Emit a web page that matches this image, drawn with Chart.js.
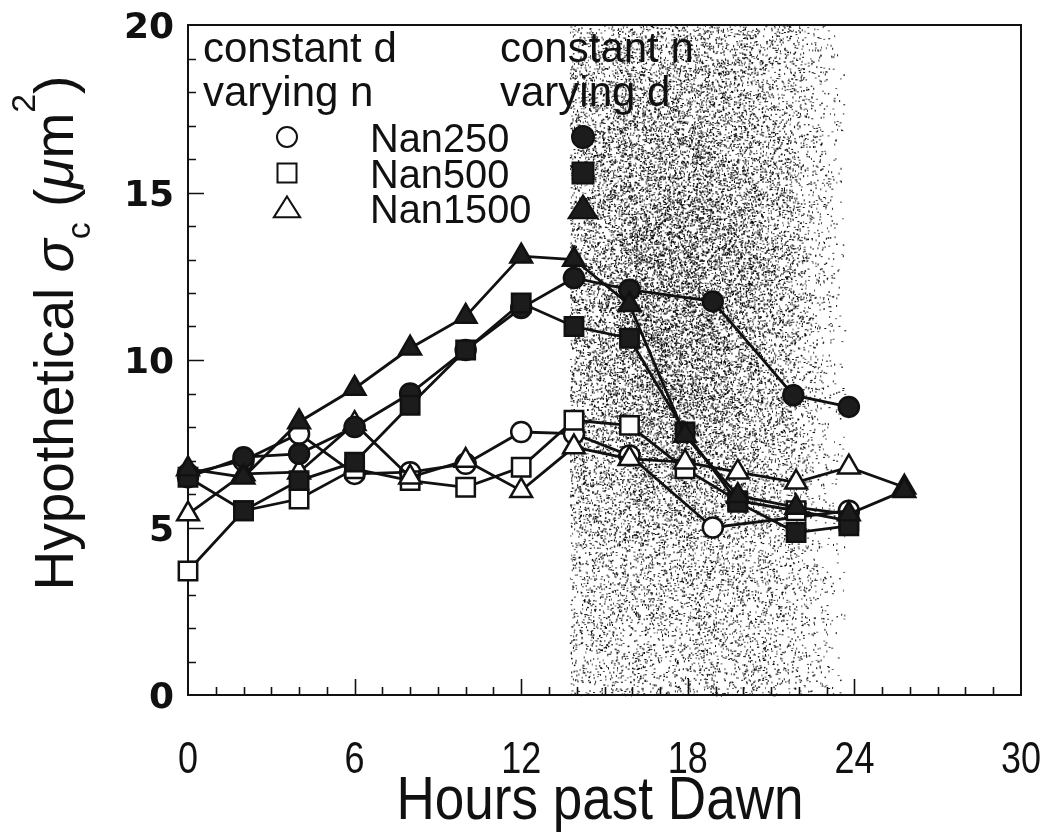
<!DOCTYPE html>
<html>
<head>
<meta charset="utf-8">
<script src="https://cdn.jsdelivr.net/npm/chart.js@4/dist/chart.umd.min.js"></script>
<style>
html, body { margin: 0; padding: 0; background: #fff; }
canvas { display: block; }
</style>
</head>
<body>
<canvas id="chart1" width="1043" height="838"></canvas>
<script>
// hours past dawn for each series
var hoursOpenCircle = [0, 2, 4, 6, 8, 10, 12, 13.9, 15.9, 18.9, 23.8];
var hoursOpenSquare = [0, 2, 4, 6, 8, 10, 12, 13.9, 15.9, 17.9, 19.8, 21.9, 23.8];
var hoursOpenTriangle = [0, 2, 4, 6, 8, 10, 12, 13.9, 15.9, 17.9, 19.8, 21.9, 23.8, 25.8];
var hoursFilledCircle = [0, 2, 4, 6, 8, 10, 12, 13.9, 15.9, 18.9, 21.8, 23.8];
var hoursFilledSquare = [0, 2, 4, 6, 8, 10, 12, 13.9, 15.9, 17.9, 19.8, 21.9, 23.8];
var hoursFilledTriangle = [0, 2, 4, 6, 8, 10, 12, 13.9, 15.9, 17.9, 19.8, 21.9, 23.8, 25.8];

// constant d, varying n
var nan250D = [6.6, 7.0, 7.8, 6.6, 6.65, 6.9, 7.85, 7.8, 7.15, 5.0, 5.5];
var nan500D = [3.7, 5.5, 5.85, 6.75, 6.4, 6.2, 6.8, 8.2, 8.05, 6.75, 5.8, 5.5, 5.2];
var nan1500D = [5.4, 6.6, 6.65, 8.1, 6.5, 7.0, 6.1, 7.4, 7.05, 6.95, 6.65, 6.35, 6.8, 6.2];

// constant n, varying d
var nan250N = [6.5, 7.1, 7.2, 8.0, 9.0, 10.3, 11.55, 12.45, 12.1, 11.75, 8.95, 8.6];
var nan500N = [6.5, 5.5, 6.4, 6.95, 8.65, 10.3, 11.7, 11.0, 10.65, 7.85, 5.75, 4.85, 5.05];
var nan1500N = [6.75, 6.5, 8.15, 9.15, 10.35, 11.3, 13.1, 13.0, 11.65, 7.75, 5.95, 5.6, 5.4, 6.1];

var xTickLabels = [0, 6, 12, 18, 24, 30];
var yTickLabels = [0, 5, 10, 15, 20];
var seriesNames = ['Nan250', 'Nan500', 'Nan1500'];

// dark period
var nightStart = 13.75;
var nightEnd = 23.5;

var FONT = '"Liberation Sans", Arial, Helvetica, sans-serif';
var INK = '#111';

function pairs(xs, ys) {
    return xs.map(function (x, i) { return { x: x, y: ys[i] }; });
}

function series(label, xs, ys, style, filled, order) {
    var r = style === 'circle' ? 10 : (style === 'rect' ? 13 : 12.5);
    return {
        label: label,
        data: pairs(xs, ys),
        showLine: true,
        borderColor: INK,
        borderWidth: 2.8,
        pointStyle: style,
        pointRadius: r,
        pointBorderWidth: 2.5,
        pointBorderColor: INK,
        pointBackgroundColor: filled ? '#1c1c1c' : '#fff',
        clip: false,
        order: order
    };
}

function drawText(ctx, str, x, y, size, squeeze, align, family, weight) {
    ctx.save();
    ctx.font = (weight ? weight + ' ' : '') + size + 'px ' + (family || FONT);
    ctx.fillStyle = INK;
    ctx.textAlign = align || 'left';
    ctx.textBaseline = 'alphabetic';
    ctx.translate(x, y);
    ctx.scale(squeeze, 1);
    ctx.fillText(str, 0, 0);
    ctx.restore();
}

function drawMarker(ctx, style, filled, x, y, r) {
    ctx.save();
    ctx.lineWidth = 2;
    ctx.strokeStyle = INK;
    ctx.fillStyle = filled ? '#1c1c1c' : '#fff';
    ctx.beginPath();
    if (style === 'circle') {
        ctx.arc(x, y, r, 0, Math.PI * 2);
    } else if (style === 'rect') {
        ctx.rect(x - r, y - r, 2 * r, 2 * r);
    } else {
        ctx.moveTo(x, y - r * 1.05);
        ctx.lineTo(x + r * 1.2, y + r * 0.85);
        ctx.lineTo(x - r * 1.2, y + r * 0.85);
        ctx.closePath();
    }
    ctx.fill();
    ctx.stroke();
    ctx.restore();
}

// small deterministic generator for the stipple texture
function stippleRand(seed) {
    return function () {
        seed |= 0; seed = seed + 0x6D2B79F5 | 0;
        var t = Math.imul(seed ^ seed >>> 15, 1 | seed);
        t = t + Math.imul(t ^ t >>> 7, 61 | t) ^ t;
        return ((t ^ t >>> 14) >>> 0) / 4294967296;
    };
}

var nightShade = {
    id: 'nightShade',
    beforeDatasetsDraw: function (chart) {
        var ctx = chart.ctx, a = chart.chartArea, xs = chart.scales.x;
        var x0 = xs.getPixelForValue(nightStart), x1 = xs.getPixelForValue(nightEnd);
        var rand = stippleRand(20240611);
        ctx.save();
        ctx.fillStyle = '#000';
        var n = 75000;
        for (var i = 0; i < n; i++) {
            var px = x0 + rand() * (x1 - x0 + 4);
            var py = a.top + rand() * (a.bottom - a.top);
            var p = 0.15 + 0.5 * Math.exp(-Math.pow((px - 675) / 110, 2) - Math.pow((py - 290) / 240, 2));
            if (px > x1 - 50) p *= Math.max(0, 1 - (px - (x1 - 50)) / 60);
            if (rand() > p) continue;
            ctx.globalAlpha = 0.55 + rand() * 0.45;
            var k = rand();
            if (k < 0.4) ctx.fillRect(px, py, 2, 1);
            else if (k < 0.8) ctx.fillRect(px, py, 1, 2);
            else ctx.fillRect(px, py, 1.5, 1.5);
        }
        ctx.restore();
    }
};

var frameAndTicks = {
    id: 'frameAndTicks',
    beforeDatasetsDraw: function (chart) {
        var ctx = chart.ctx, a = chart.chartArea;
        var xs = chart.scales.x, ys = chart.scales.y;
        ctx.save();
        ctx.strokeStyle = INK;
        ctx.lineWidth = 2;
        ctx.strokeRect(a.left, a.top, a.right - a.left, a.bottom - a.top);
        ctx.lineWidth = 1.6;
        ctx.beginPath();
        for (var h = 1; h < 30; h++) {
            var px = Math.round(xs.getPixelForValue(h)) + 0.5;
            var len = h % 6 === 0 ? 16 : 8;
            ctx.moveTo(px, a.bottom);
            ctx.lineTo(px, a.bottom - len);
        }
        for (var v = 1; v < 20; v++) {
            var py = Math.round(ys.getPixelForValue(v)) + 0.5;
            var len2 = v % 5 === 0 ? 16 : 8;
            ctx.moveTo(a.left, py);
            ctx.lineTo(a.left + len2, py);
        }
        ctx.stroke();
        ctx.restore();
    },
    afterDraw: function (chart) {
        var ctx = chart.ctx;
        var xs = chart.scales.x, ys = chart.scales.y;

        xTickLabels.forEach(function (t) {
            drawText(ctx, String(t), xs.getPixelForValue(t), 773, 45, 0.8, 'center');
        });
        yTickLabels.forEach(function (t) {
            drawText(ctx, String(t), 174, ys.getPixelForValue(t) + 13, 36, 1, 'right',
                '"DejaVu Sans", sans-serif', 'bold');
        });

        drawText(ctx, 'Hours past Dawn', 600, 819, 61, 0.87, 'center');

        // y axis title with subscript and superscript
        var parts = [
            { t: 'Hypothetical ', s: 1 },
            { t: '\u03c3', s: 1, it: true },
            { t: 'c', s: 0.62, dy: 0.3 },
            { t: ' (', s: 1 },
            { t: '\u03bc', s: 1, it: true },
            { t: 'm', s: 1 },
            { t: '2', s: 0.62, dy: -0.7 },
            { t: ')', s: 1 }
        ];
        var size = 55, q = 1;
        ctx.save();
        ctx.translate(73, 333);
        ctx.rotate(-Math.PI / 2);
        ctx.scale(q, 1);
        ctx.fillStyle = INK;
        var total = 0;
        parts.forEach(function (p) {
            ctx.font = (p.it ? 'italic ' : '') + Math.round(size * p.s) + 'px ' + FONT;
            p.w = ctx.measureText(p.t).width;
            total += p.w;
        });
        var cx = -total / 2;
        parts.forEach(function (p) {
            ctx.font = (p.it ? 'italic ' : '') + Math.round(size * p.s) + 'px ' + FONT;
            ctx.fillText(p.t, cx, (p.dy || 0) * size);
            cx += p.w;
        });
        ctx.restore();

        // key
        drawText(ctx, 'constant d', 203, 62, 42, 1);
        drawText(ctx, 'varying n', 203, 106, 42, 1);
        drawText(ctx, 'constant n', 500, 62, 42, 1);
        drawText(ctx, 'varying d', 500, 106, 42, 1);
        var styles = ['circle', 'rect', 'triangle'];
        var rows = [137, 173, 208];
        styles.forEach(function (st, i) {
            var r = st === 'circle' ? 10 : (st === 'rect' ? 9.5 : 11);
            drawMarker(ctx, st, false, 287, rows[i], r);
            drawText(ctx, seriesNames[i], 370, rows[i] + 15, 41, 0.97);
            drawMarker(ctx, st, true, 583, rows[i], r + 1);
        });
    }
};

var ctx = document.getElementById('chart1').getContext('2d');
var chart = new Chart(ctx, {
    type: 'scatter',
    data: {
        datasets: [
            series('Nan250 constant d', hoursOpenCircle, nan250D, 'circle', false, 5),
            series('Nan500 constant d', hoursOpenSquare, nan500D, 'rect', false, 4),
            series('Nan1500 constant d', hoursOpenTriangle, nan1500D, 'triangle', false, 3),
            series('Nan250 constant n', hoursFilledCircle, nan250N, 'circle', true, 2),
            series('Nan500 constant n', hoursFilledSquare, nan500N, 'rect', true, 1),
            series('Nan1500 constant n', hoursFilledTriangle, nan1500N, 'triangle', true, 0)
        ]
    },
    options: {
        responsive: false,
        devicePixelRatio: 1,
        animation: false,
        layout: { padding: { top: 25, right: 22, left: 0, bottom: 0 } },
        plugins: {
            legend: { display: false },
            tooltip: { enabled: false }
        },
        scales: {
            x: {
                type: 'linear', min: 0, max: 30,
                grid: { display: false },
                border: { display: false },
                ticks: { display: false },
                afterFit: function (scale) { scale.height = 143; }
            },
            y: {
                type: 'linear', min: 0, max: 20,
                grid: { display: false },
                border: { display: false },
                ticks: { display: false },
                afterFit: function (scale) { scale.width = 188; }
            }
        }
    },
    plugins: [nightShade, frameAndTicks]
});
</script>
</body>
</html>
